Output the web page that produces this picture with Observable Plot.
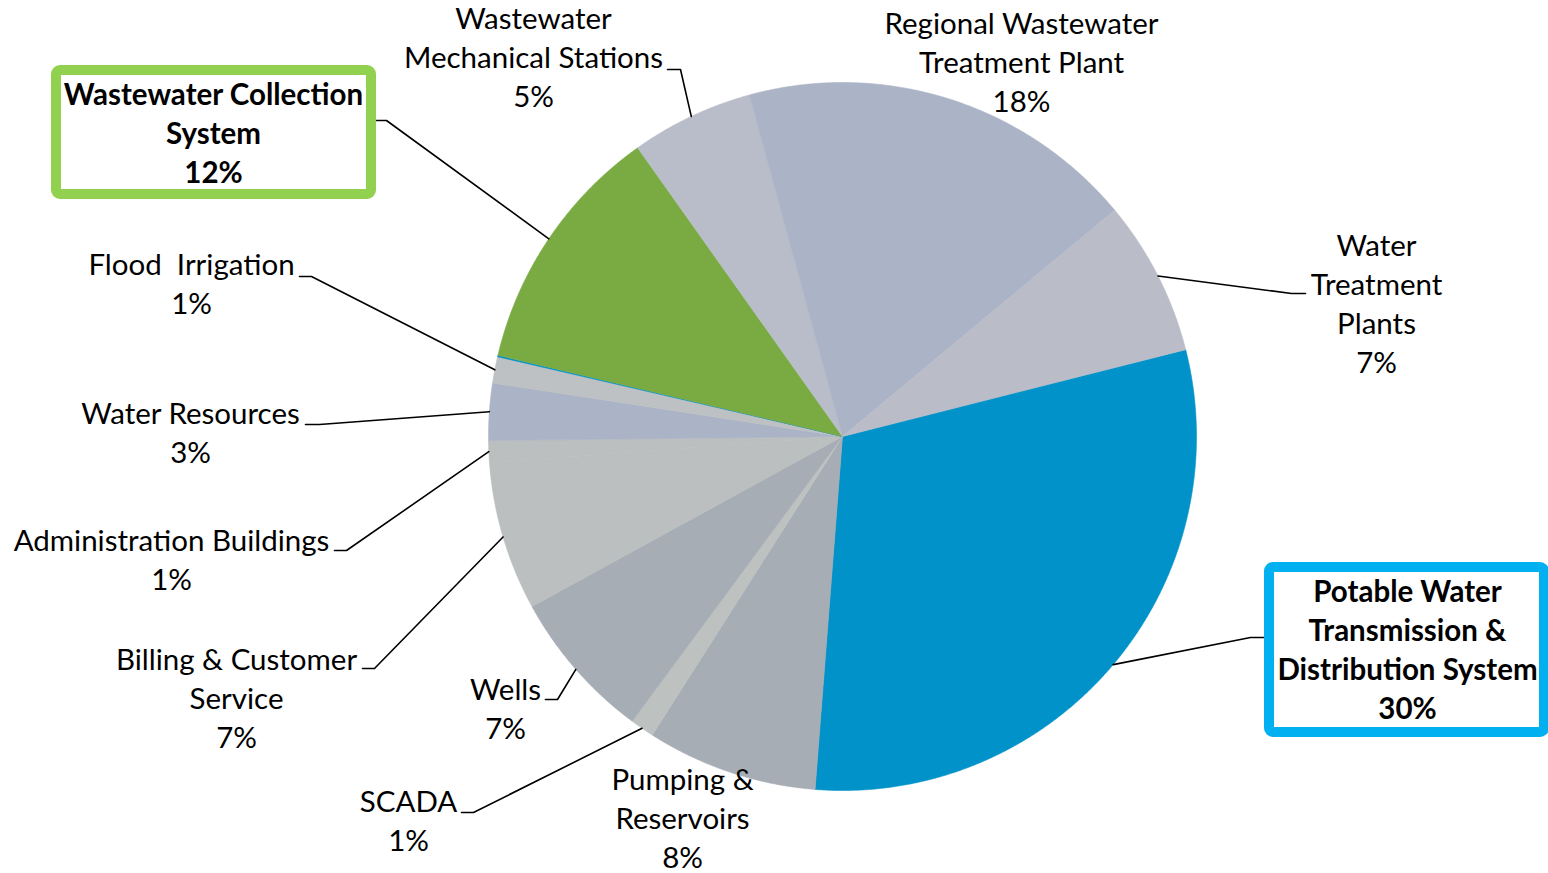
<!DOCTYPE html>
<html>
<head>
<meta charset="utf-8">
<script src="https://cdn.jsdelivr.net/npm/d3@7"></script>
<script src="https://cdn.jsdelivr.net/npm/@observablehq/plot@0.6"></script>
<style>
  html, body { margin: 0; padding: 0; background: #fff; overflow: hidden; }
</style>
</head>
<body>
<div id="chart"></div>
<script>
// ---------- DATA (clockwise order, as in the picture) ----------
const categories = [
  "Potable Water Transmission & Distribution System",
  "Pumping & Reservoirs",
  "SCADA",
  "Wells",
  "Billing & Customer Service",
  "Administration Buildings",
  "Water Resources",
  "Flood  Irrigation",
  "Unlabeled sliver",
  "Wastewater Collection System",
  "Wastewater Mechanical Stations",
  "Regional Wastewater Treatment Plant",
  "Water Treatment Plants"
];
const values = [30.2, 7.8, 1.1, 6.9, 6.8, 1.0, 2.6, 1.2, 0.07, 11.5, 5.6, 18.2, 7.1];
const percentLabels = ["30%", "8%", "1%", "7%", "7%", "1%", "3%", "1%", "", "12%", "5%", "18%", "7%"];
const labelLines = [
  ["Potable Water", "Transmission &", "Distribution System"],
  ["Pumping &", "Reservoirs"],
  ["SCADA"],
  ["Wells"],
  ["Billing & Customer", "Service"],
  ["Administration Buildings"],
  ["Water Resources"],
  ["Flood  Irrigation"],
  [],
  ["Wastewater Collection", "System"],
  ["Wastewater", "Mechanical Stations"],
  ["Regional Wastewater", "Treatment Plant"],
  ["Water", "Treatment", "Plants"]
];
const highlighted = ["Potable Water Transmission & Distribution System", "Wastewater Collection System"];

// ---------- STYLE / LAYOUT ----------
const colors = [
  "#0092c8", "#a6adb5", "#bdc2c1", "#a6adb5", "#bbbfbf", "#bbbfbf",
  "#abb3c6", "#bec1c3", "#0092c8", "#7aab43", "#b9bdc9", "#abb3c6", "#babdc8"
];
const W = 1548, H = 873;
const CX = 842, CY = 436, R = 354, START_ANGLE = 75.8;
const FONT = "Lato, 'Open Sans', sans-serif";
const FONT_SIZE = 29.5;
const LINE_H = 39;

// label block centres
const labelCenter = {
  "Potable Water Transmission & Distribution System": [1407, 648],
  "Pumping & Reservoirs": [682, 816],
  "SCADA": [408, 819],
  "Wells": [505, 707],
  "Billing & Customer Service": [236, 696],
  "Administration Buildings": [171, 558],
  "Water Resources": [190, 431],
  "Flood  Irrigation": [191, 282],
  "Wastewater Collection System": [213, 131],
  "Wastewater Mechanical Stations": [533, 55],
  "Regional Wastewater Treatment Plant": [1021, 60],
  "Water Treatment Plants": [1376, 302]
};
// leader stubs: [x at label, x of elbow, y]
const leaderStub = {
  "Potable Water Transmission & Distribution System": [1264, 1250, 637],
  "SCADA": [461, 473, 812],
  "Wells": [545, 557, 699],
  "Billing & Customer Service": [362, 374, 668],
  "Administration Buildings": [334, 346, 550],
  "Water Resources": [305, 319, 424],
  "Flood  Irrigation": [299, 311, 276],
  "Wastewater Collection System": [376, 386, 120],
  "Wastewater Mechanical Stations": [667, 680, 69],
  "Water Treatment Plants": [1305, 1291, 293]
};
// highlight boxes (stroke centre lines)
const boxes = [
  {name: "Wastewater Collection System", x1: 56, x2: 371, y1: 70, y2: 194, color: "#92d050"},
  {name: "Potable Water Transmission & Distribution System", x1: 1269, x2: 1544, y1: 567, y2: 732, color: "#00b0f0"}
];

// ---------- GEOMETRY FROM VALUES ----------
const total = d3.sum(values);
const rad = d => d * Math.PI / 180;
const toXY = (deg, r) => [CX + r * Math.sin(rad(deg)), CY - r * Math.cos(rad(deg))];
let acc = START_ANGLE;
const slices = categories.map((name, i) => {
  const a0 = acc, a1 = acc + values[i] / total * 360;
  acc = a1;
  return {name, i, a0, a1, mid: (a0 + a1) / 2};
});
function slicePoints(s) {
  const pts = [{x: CX, y: CY}];
  const n = Math.max(2, Math.ceil((s.a1 - s.a0) / 0.25));
  for (let k = 0; k <= n; k++) {
    const [x, y] = toXY(s.a0 + (s.a1 - s.a0) * k / n, R);
    pts.push({x, y});
  }
  pts.push({x: CX, y: CY});
  return pts;
}

const labels = slices.filter(s => labelCenter[s.name]).map(s => ({
  name: s.name,
  x: labelCenter[s.name][0],
  y: labelCenter[s.name][1],
  text: [...labelLines[s.i], percentLabels[s.i]].join("\n"),
  bold: highlighted.includes(s.name)
}));

const leaders = slices.filter(s => leaderStub[s.name]).flatMap(s => {
  const [sx, ex, y] = leaderStub[s.name];
  const [px, py] = toXY(s.mid, R);
  return [
    {name: s.name, x: sx, y},
    {name: s.name, x: ex, y},
    {name: s.name, x: px, y: py}
  ];
});

const marks = [
  ...slices.map(s => Plot.line(slicePoints(s), {
    x: "x", y: "y", fill: colors[s.i], stroke: colors[s.i], strokeWidth: 0.6, curve: "linear"
  })),
  Plot.line(leaders, {x: "x", y: "y", z: "name", stroke: "#000", strokeWidth: 1.6, curve: "linear"}),
  ...boxes.map(b => Plot.rect([b], {
    x1: "x1", x2: "x2", y1: "y1", y2: "y2", fill: "white", stroke: b.color, strokeWidth: 10, rx: 4
  })),
  Plot.text(labels.filter(d => !d.bold), {
    x: "x", y: "y", text: "text", fontSize: FONT_SIZE, fontFamily: FONT, fill: "#000",
    lineHeight: LINE_H / FONT_SIZE, lineAnchor: "middle", textAnchor: "middle"
  }),
  Plot.text(labels.filter(d => d.bold), {
    x: "x", y: "y", text: "text", fontSize: FONT_SIZE, fontFamily: FONT, fontWeight: "bold", fill: "#000",
    lineHeight: LINE_H / FONT_SIZE, lineAnchor: "middle", textAnchor: "middle"
  })
];

const chart = Plot.plot({
  width: W, height: H, margin: 0,
  x: {domain: [0, W], range: [0, W], axis: null},
  y: {domain: [0, H], range: [0, H], axis: null},
  style: {background: "white", overflow: "visible"},
  marks
});
document.getElementById("chart").appendChild(chart);
</script>
</body>
</html>
